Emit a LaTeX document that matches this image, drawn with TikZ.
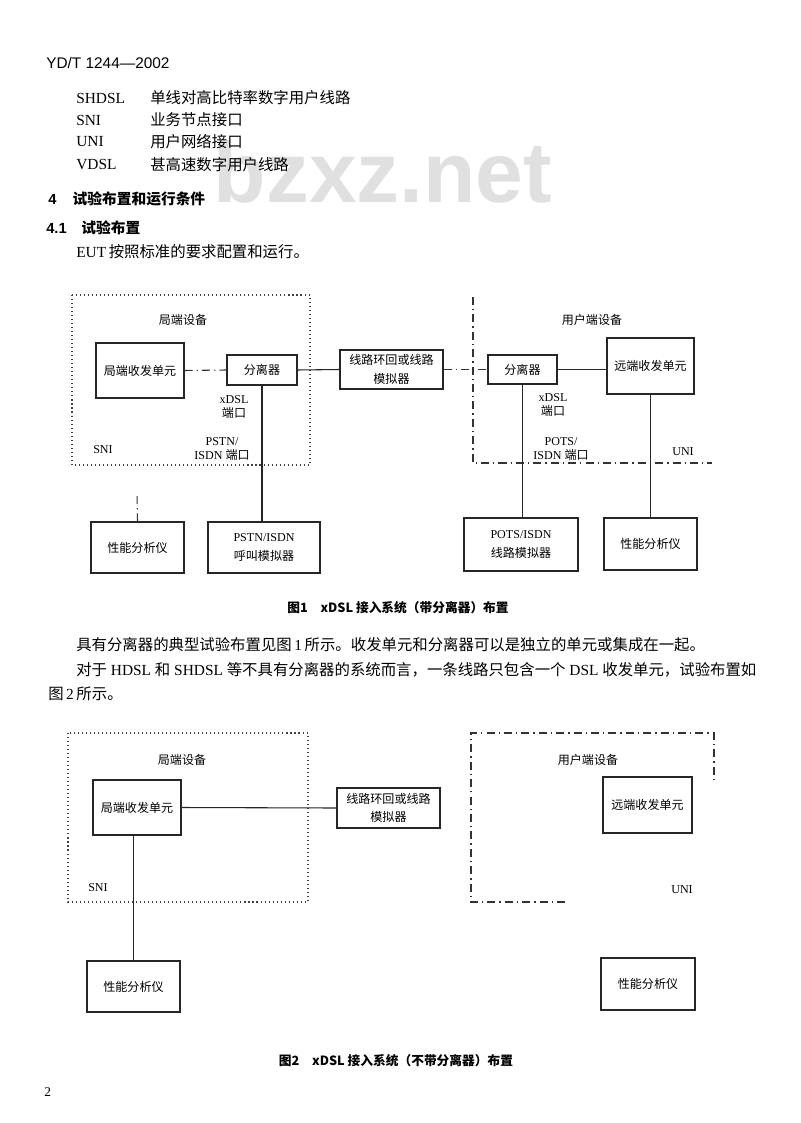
\documentclass[tikz,border=0pt]{standalone}
\usepackage{fontspec}
\setmainfont{Liberation Serif}
\setsansfont{Liberation Sans}
\newfontfamily\cjk{Noto Sans CJK SC}
\newcommand{\zh}[1]{{\cjk #1}}
\newcommand{\px}{*0.2625mm}
\tikzset{
  geraet/.style={draw=black!85, line width=0.8pt, inner sep=0pt, align=center, font=\fontsize{9}{14}\selectfont},
  bereich/.style={draw=black!75, line width=0.8pt, dash pattern=on 0.8pt off 2.2pt},
  strichpunkt/.style={draw=black!80, line width=0.8pt, dash pattern=on 6pt off 3pt on 1pt off 3pt},
  leitung/.style={draw=black!85, line width=0.8pt},
  beschr/.style={inner sep=0pt, align=center, font=\fontsize{9}{11}\selectfont},
  zeile/.style={anchor=west, inner sep=0pt, font=\fontsize{11.5}{13}\selectfont},
  titel/.style={inner sep=0pt, font=\cjk\bfseries\fontsize{9.5}{11}\selectfont},
}
\begin{document}
\begin{tikzpicture}[x=0.2625mm, y=-0.2625mm]
\fill[white] (0,0) rectangle (800,1123);
\useasboundingbox (0,0) rectangle (800,1123);

% Wasserzeichen
\node[anchor=base, inner sep=0pt, text=black!12, font=\sffamily\bfseries\fontsize{64}{64}\selectfont] (wz) at (383,203) {bzxz.net};

% Kopf und Abkuerzungen
\node[zeile, font=\sffamily\fontsize{11.5}{13}\selectfont] (kopf) at (46,63) {YD/T 1244—2002};
\foreach \abk/\txt/\y in {SHDSL/单线对高比特率数字用户线路/98, SNI/业务节点接口/120, UNI/用户网络接口/142, VDSL/甚高速数字用户线路/165} {
  \node[zeile] (abk\y) at (76,\y) {\abk};
  \node[zeile] (txt\y) at (150,\y) {\zh{\txt}};
}
\node[zeile, font=\bfseries\fontsize{11}{13}\selectfont] (h4) at (48,199) {{\sffamily 4}\hspace{1.1em}\zh{试验布置和运行条件}};
\node[zeile, font=\bfseries\fontsize{11}{13}\selectfont] (h41) at (46,228) {{\sffamily 4.1}\hspace{1em}\zh{试验布置}};
\node[zeile] (eut) at (76,252) {EUT\,\zh{按照标准的要求配置和运行。}};

% Bild 1
\draw[bereich] (72,295) rectangle (310,465);
\draw[strichpunkt] (473,297) -- (473,463) -- (712,463);
\node[beschr] (ce1) at (183,320) {\zh{局端设备}};
\node[beschr] (cpe1) at (592,320) {\zh{用户端设备}};
\node[geraet, minimum width=88\px, minimum height=55\px] (ltu1) at (140,370.5) {\zh{局端收发单元}};
\node[geraet, minimum width=70\px, minimum height=30\px] (spl1) at (262,370) {\zh{分离器}};
\node[geraet, minimum width=103\px, minimum height=39\px] (sim1) at (391.5,369.5) {\zh{线路环回或线路}\\\zh{模拟器}};
\node[geraet, minimum width=69\px, minimum height=29\px] (spl2) at (522.5,369.5) {\zh{分离器}};
\node[geraet, minimum width=87\px, minimum height=56\px] (ntu1) at (650.5,366) {\zh{远端收发单元}};
\node[geraet, minimum width=93\px, minimum height=51\px] (pa1) at (137.5,547.5) {\zh{性能分析仪}};
\node[geraet, minimum width=112\px, minimum height=51\px] (pstn) at (264,547.5) {PSTN/ISDN\\\zh{呼叫模拟器}};
\node[geraet, minimum width=114\px, minimum height=53\px] (pots) at (521,544.5) {POTS/ISDN\\\zh{线路模拟器}};
\node[geraet, minimum width=93\px, minimum height=52\px] (pa2) at (650.5,544) {\zh{性能分析仪}};
\node[beschr] (port1) at (234,407) {xDSL\\\zh{端口}};
\node[beschr] (port2) at (222,449) {PSTN/\\ISDN \zh{端口}};
\node[beschr] (port3) at (553,405) {xDSL\\\zh{端口}};
\node[beschr] (port4) at (561,449) {POTS/\\ISDN \zh{端口}};
\node[beschr] (sni1) at (103,450) {SNI};
\node[beschr] (uni1) at (683,452) {UNI};
\coordinate (pa1oben) at (137,493);

% Verbindungen
\draw[strichpunkt] (ltu1.east) -- (spl1.west);
\draw[leitung] (spl1.east) -- (sim1.west);
\draw[strichpunkt] (sim1.east) -- (spl2.west);
\draw[leitung] (spl2.east) -- (spl2.east -| ntu1.west);
\draw[leitung] (spl1.south) -- (spl1.south |- pstn.north);
\draw[leitung] (spl2.south) -- (spl2.south |- pots.north);
\draw[leitung] (ntu1.south) -- (ntu1.south |- pa2.north);
\draw[strichpunkt] (pa1.north) -- (pa1oben);

\node[titel] (bild1) at (398,608) {图1\hspace{1em}xDSL 接入系统（带分离器）布置};

% Text
\node[zeile] (abs1) at (76,645) {\zh{具有分离器的典型试验布置见图}\,1\,\zh{所示。收发单元和分离器可以是独立的单元或集成在一起。}};
\node[zeile] (abs2) at (76,670) {\zh{对于} HDSL \zh{和} SHDSL \zh{等不具有分离器的系统而言，一条线路只包含一个} DSL \zh{收发单元，试验布置如}};
\node[zeile] (abs3) at (48,694) {\zh{图}\,2\,\zh{所示。}};

% Bild 2
\draw[bereich] (68,733) rectangle (308,902);
\draw[strichpunkt] (565,902) -- (471,902) -- (471,733) -- (714,733) -- (714,780);
\node[beschr] (ce2) at (182,760) {\zh{局端设备}};
\node[beschr] (cpe2) at (588,760) {\zh{用户端设备}};
\node[geraet, minimum width=88\px, minimum height=55\px] (ltu2) at (137,807.5) {\zh{局端收发单元}};
\node[geraet, minimum width=103\px, minimum height=40\px] (sim2) at (388.5,808) {\zh{线路环回或线路}\\\zh{模拟器}};
\node[geraet, minimum width=89\px, minimum height=56\px] (ntu2) at (647.5,805) {\zh{远端收发单元}};
\node[geraet, minimum width=93\px, minimum height=51\px] (pa3) at (133.5,986.5) {\zh{性能分析仪}};
\node[geraet, minimum width=94\px, minimum height=52\px] (pa4) at (648,984) {\zh{性能分析仪}};
\node[beschr] (sni2) at (98,888) {SNI};
\node[beschr] (uni2) at (682,890) {UNI};
\draw[leitung] (ltu2.east) -- (sim2.west);
\draw[leitung] (pa3.north |- ltu2.south) -- (pa3.north);

\node[titel] (bild2) at (396,1061) {图2\hspace{1em}xDSL 接入系统（不带分离器）布置};
\node[zeile, font=\fontsize{10}{12}\selectfont] (seite) at (44,1092) {2};
\end{tikzpicture}
\end{document}
